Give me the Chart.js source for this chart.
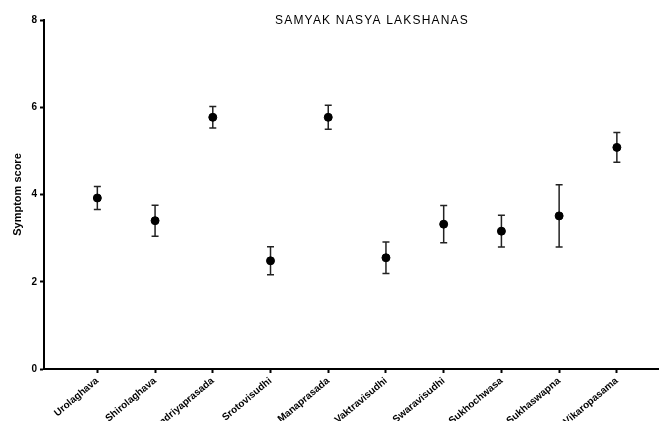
<!DOCTYPE html>
<html>
<head>
<meta charset="utf-8">
<script src="https://cdn.jsdelivr.net/npm/chart.js@4"></script>
<style>
  html, body { margin: 0; padding: 0; background: #fff; }
  #wrap { width: 659px; height: 421px; }
</style>
</head>
<body>
<div id="wrap"><canvas id="nasyaChart"></canvas></div>
<script>
const categories = ['Urolaghava', 'Shirolaghava', 'Indriyaprasada', 'Srotovisudhi', 'Manaprasada',
    'Vaktravisudhi', 'Swaravisudhi', 'Sukhochwasa', 'Sukhaswapna', 'Vikaropasama'];
const means = [3.92, 3.40, 5.77, 2.48, 5.77, 2.55, 3.32, 3.16, 3.51, 5.08];
const sem = [0.265, 0.355, 0.245, 0.32, 0.275, 0.36, 0.425, 0.365, 0.715, 0.34];
const yTicks = [0, 2, 4, 6, 8];
const chartTitle = 'SAMYAK NASYA LAKSHANAS';

const FONT = '"Liberation Sans", Arial, sans-serif';

// draws the mean +- sem whiskers from the scales
const errorBars = {
    id: 'errorBars',
    beforeDatasetsDraw(chart) {
        const ctx = chart.ctx;
        const xs = chart.scales.x, ys = chart.scales.y;
        ctx.save();
        ctx.strokeStyle = '#222';
        ctx.lineWidth = 1.5;
        means.forEach((m, i) => {
            const x = xs.getPixelForValue(i + 1);
            const hi = ys.getPixelForValue(m + sem[i]);
            const lo = ys.getPixelForValue(m - sem[i]);
            ctx.beginPath();
            ctx.moveTo(x, hi); ctx.lineTo(x, lo);
            ctx.moveTo(x - 3.5, hi); ctx.lineTo(x + 3.5, hi);
            ctx.moveTo(x - 3.5, lo); ctx.lineTo(x + 3.5, lo);
            ctx.stroke();
        });
        ctx.restore();
    }
};

const titleText = {
    id: 'titleText',
    afterDraw(chart) {
        const ctx = chart.ctx;
        ctx.save();
        ctx.font = '12px ' + FONT;
        ctx.letterSpacing = '1.2px';
        ctx.fillStyle = '#000';
        ctx.textAlign = 'center';
        ctx.textBaseline = 'middle';
        ctx.fillText(chartTitle, 372, 21);
        ctx.restore();
    }
};

new Chart(document.getElementById('nasyaChart'), {
    type: 'scatter',
    data: {
        datasets: [{
            data: means.map((m, i) => ({ x: i + 1, y: m })),
            backgroundColor: '#000',
            borderColor: '#000',
            pointRadius: 4,
            pointHoverRadius: 4
        }]
    },
    options: {
        responsive: true,
        maintainAspectRatio: false,
        animation: false,
        layout: { autoPadding: false, padding: { top: 20, left: 0, right: 0, bottom: 0 } },
        plugins: { legend: { display: false }, tooltip: { enabled: false } },
        scales: {
            x: {
                type: 'linear',
                min: 0.076,
                max: 10.73,
                bounds: 'data',
                afterBuildTicks: (s) => { s.ticks = categories.map((c, i) => ({ value: i + 1 })); },
                afterFit: (s) => { s.height = 52; s.paddingLeft = 0; s.paddingRight = 0; },
                grid: { drawOnChartArea: false, drawTicks: true, tickLength: 4, tickColor: '#000', tickWidth: 2 },
                border: { display: true, color: '#000', width: 2 },
                ticks: {
                    autoSkip: false,
                    minRotation: 40,
                    maxRotation: 40,
                    padding: 2,
                    color: '#000',
                    font: { family: FONT, size: 10, weight: 'bold' },
                    callback: (v) => categories[v - 1]
                }
            },
            y: {
                min: 0,
                max: 8,
                afterBuildTicks: (s) => { s.ticks = yTicks.map(v => ({ value: v })); },
                afterFit: (s) => { s.width = 44; },
                grid: { drawOnChartArea: false, drawTicks: true, tickLength: 4, tickColor: '#000', tickWidth: 2 },
                border: { display: true, color: '#000', width: 2 },
                ticks: {
                    padding: 3,
                    color: '#000',
                    font: { family: FONT, size: 10, weight: 'bold' }
                },
                title: {
                    display: true,
                    text: 'Symptom score',
                    color: '#000',
                    padding: { top: 11, bottom: 0 },
                    font: { family: FONT, size: 11, weight: 'bold' }
                }
            }
        }
    },
    plugins: [errorBars, titleText]
});
</script>
</body>
</html>
